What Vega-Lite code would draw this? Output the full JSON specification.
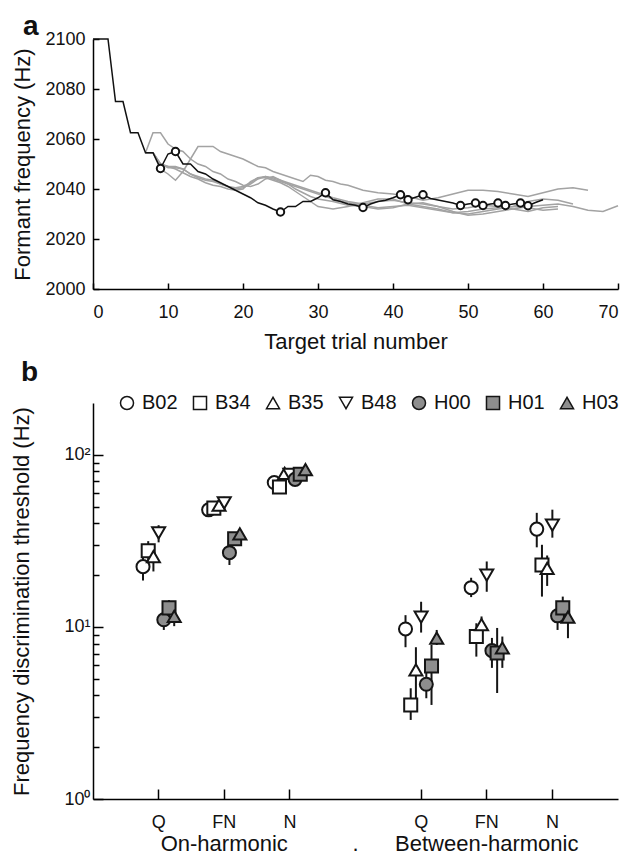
{
  "$schema": "https://vega.github.io/schema/vega-lite/v6.json",
  "padding": {"left": 10, "top": 13, "right": 8, "bottom": 4},
  "background": "white",
  "spacing": 7,
  "resolve": {"scale": {"shape": "independent", "fill": "independent"}, "legend": {"shape": "independent", "fill": "independent"}},
  "config": {
    "font": "Liberation Sans",
    "view": {"stroke": null},
    "axis": {"grid": false, "domainColor": "#000", "domainWidth": 1.5, "tickColor": "#000", "tickWidth": 1.5, "labelColor": "#111", "titleColor": "#111", "labelFontSize": 18, "titleFontSize": 22, "titleFontWeight": "normal", "labelFont": "Liberation Sans", "titleFont": "Liberation Sans"},
    "title": {"fontSize": 28, "fontWeight": "bold", "anchor": "start", "frame": "bounds", "color": "#111", "font": "Liberation Sans"},
    "legend": {"labelFont": "Liberation Sans", "labelColor": "#111"}
  },
  "datasets": {
    "black_track": [
      {"trial": 0, "freq": 2100}, {"trial": 1, "freq": 2100}, {"trial": 2, "freq": 2100}, {"trial": 3, "freq": 2075}, {"trial": 4, "freq": 2075},
      {"trial": 5, "freq": 2062.5}, {"trial": 6, "freq": 2062.5}, {"trial": 7, "freq": 2054.5}, {"trial": 8, "freq": 2054.5}, {"trial": 9, "freq": 2048.2},
      {"trial": 10, "freq": 2054}, {"trial": 11, "freq": 2055}, {"trial": 12, "freq": 2050}, {"trial": 13, "freq": 2050}, {"trial": 14, "freq": 2047},
      {"trial": 15, "freq": 2046}, {"trial": 16, "freq": 2044}, {"trial": 17, "freq": 2042.5}, {"trial": 18, "freq": 2041}, {"trial": 19, "freq": 2039.5},
      {"trial": 20, "freq": 2038}, {"trial": 21, "freq": 2036.5}, {"trial": 22, "freq": 2034.5}, {"trial": 23, "freq": 2033.5}, {"trial": 24, "freq": 2032},
      {"trial": 25, "freq": 2030.8}, {"trial": 26, "freq": 2033}, {"trial": 27, "freq": 2033}, {"trial": 28, "freq": 2035}, {"trial": 29, "freq": 2035},
      {"trial": 30, "freq": 2036.5}, {"trial": 31, "freq": 2038.5}, {"trial": 32, "freq": 2035.7}, {"trial": 33, "freq": 2035}, {"trial": 34, "freq": 2034},
      {"trial": 35, "freq": 2033.5}, {"trial": 36, "freq": 2032.6}, {"trial": 37, "freq": 2034}, {"trial": 38, "freq": 2035}, {"trial": 39, "freq": 2035.5},
      {"trial": 40, "freq": 2036.5}, {"trial": 41, "freq": 2037.7}, {"trial": 42, "freq": 2035.7}, {"trial": 43, "freq": 2036.7}, {"trial": 44, "freq": 2037.7},
      {"trial": 45, "freq": 2036.2}, {"trial": 46, "freq": 2035.6}, {"trial": 47, "freq": 2035}, {"trial": 48, "freq": 2034.4}, {"trial": 49, "freq": 2033.4},
      {"trial": 50, "freq": 2034}, {"trial": 51, "freq": 2034.4}, {"trial": 52, "freq": 2033.4}, {"trial": 53, "freq": 2034}, {"trial": 54, "freq": 2034.4},
      {"trial": 55, "freq": 2033.4}, {"trial": 56, "freq": 2034}, {"trial": 57, "freq": 2034.4}, {"trial": 58, "freq": 2033.3}, {"trial": 59, "freq": 2034.6},
      {"trial": 60, "freq": 2035.7}
    ],
    "reversals": [
      {"trial": 9, "freq": 2048.2}, {"trial": 11, "freq": 2055}, {"trial": 25, "freq": 2030.8}, {"trial": 31, "freq": 2038.5}, {"trial": 36, "freq": 2032.6},
      {"trial": 41, "freq": 2037.7}, {"trial": 42, "freq": 2035.7}, {"trial": 44, "freq": 2037.7}, {"trial": 49, "freq": 2033.4}, {"trial": 51, "freq": 2034.4},
      {"trial": 52, "freq": 2033.4}, {"trial": 54, "freq": 2034.4}, {"trial": 55, "freq": 2033.4}, {"trial": 57, "freq": 2034.4}, {"trial": 58, "freq": 2033.3}
    ],
    "grey_tracks": [
      {"track": "G1", "trial": 7, "freq": 2054.5}, {"track": "G1", "trial": 8, "freq": 2062.5}, {"track": "G1", "trial": 9, "freq": 2062.5}, {"track": "G1", "trial": 10, "freq": 2058}, {"track": "G1", "trial": 11, "freq": 2056}, {"track": "G1", "trial": 12, "freq": 2055}, {"track": "G1", "trial": 13, "freq": 2052}, {"track": "G1", "trial": 14, "freq": 2050}, {"track": "G1", "trial": 15, "freq": 2049}, {"track": "G1", "trial": 16, "freq": 2047}, {"track": "G1", "trial": 17, "freq": 2046}, {"track": "G1", "trial": 18, "freq": 2044}, {"track": "G1", "trial": 19, "freq": 2043}, {"track": "G1", "trial": 20, "freq": 2041.5}, {"track": "G1", "trial": 21, "freq": 2041}, {"track": "G1", "trial": 22, "freq": 2042}, {"track": "G1", "trial": 23, "freq": 2044}, {"track": "G1", "trial": 24, "freq": 2045}, {"track": "G1", "trial": 25, "freq": 2043.5}, {"track": "G1", "trial": 26, "freq": 2042.5}, {"track": "G1", "trial": 27, "freq": 2041.5}, {"track": "G1", "trial": 28, "freq": 2040.5}, {"track": "G1", "trial": 30, "freq": 2038.5}, {"track": "G1", "trial": 32, "freq": 2036.5}, {"track": "G1", "trial": 34, "freq": 2035}, {"track": "G1", "trial": 36, "freq": 2034}, {"track": "G1", "trial": 38, "freq": 2035}, {"track": "G1", "trial": 40, "freq": 2035.5}, {"track": "G1", "trial": 42, "freq": 2034.5}, {"track": "G1", "trial": 44, "freq": 2034}, {"track": "G1", "trial": 46, "freq": 2033}, {"track": "G1", "trial": 48, "freq": 2032}, {"track": "G1", "trial": 50, "freq": 2032.5}, {"track": "G1", "trial": 52, "freq": 2033.5}, {"track": "G1", "trial": 54, "freq": 2033}, {"track": "G1", "trial": 56, "freq": 2032}, {"track": "G1", "trial": 58, "freq": 2031}, {"track": "G1", "trial": 60, "freq": 2032.5}, {"track": "G1", "trial": 62, "freq": 2033},
      {"track": "G2", "trial": 7, "freq": 2054.5}, {"track": "G2", "trial": 8, "freq": 2054.5}, {"track": "G2", "trial": 9, "freq": 2048}, {"track": "G2", "trial": 10, "freq": 2046}, {"track": "G2", "trial": 11, "freq": 2043.5}, {"track": "G2", "trial": 12, "freq": 2047}, {"track": "G2", "trial": 13, "freq": 2052}, {"track": "G2", "trial": 14, "freq": 2057}, {"track": "G2", "trial": 15, "freq": 2057}, {"track": "G2", "trial": 16, "freq": 2057}, {"track": "G2", "trial": 17, "freq": 2055}, {"track": "G2", "trial": 18, "freq": 2054}, {"track": "G2", "trial": 19, "freq": 2053}, {"track": "G2", "trial": 20, "freq": 2052}, {"track": "G2", "trial": 21, "freq": 2050.5}, {"track": "G2", "trial": 22, "freq": 2049}, {"track": "G2", "trial": 23, "freq": 2048.5}, {"track": "G2", "trial": 24, "freq": 2047}, {"track": "G2", "trial": 25, "freq": 2046}, {"track": "G2", "trial": 26, "freq": 2045}, {"track": "G2", "trial": 27, "freq": 2044}, {"track": "G2", "trial": 28, "freq": 2043}, {"track": "G2", "trial": 29, "freq": 2045.5}, {"track": "G2", "trial": 30, "freq": 2045}, {"track": "G2", "trial": 31, "freq": 2043.5}, {"track": "G2", "trial": 32, "freq": 2043}, {"track": "G2", "trial": 33, "freq": 2042}, {"track": "G2", "trial": 34, "freq": 2041.5}, {"track": "G2", "trial": 35, "freq": 2040.5}, {"track": "G2", "trial": 36, "freq": 2039.5}, {"track": "G2", "trial": 37, "freq": 2039}, {"track": "G2", "trial": 38, "freq": 2038.5}, {"track": "G2", "trial": 40, "freq": 2038}, {"track": "G2", "trial": 42, "freq": 2037}, {"track": "G2", "trial": 44, "freq": 2035.5}, {"track": "G2", "trial": 46, "freq": 2036.5}, {"track": "G2", "trial": 48, "freq": 2038}, {"track": "G2", "trial": 50, "freq": 2039.5}, {"track": "G2", "trial": 52, "freq": 2039.5}, {"track": "G2", "trial": 54, "freq": 2039}, {"track": "G2", "trial": 56, "freq": 2038}, {"track": "G2", "trial": 58, "freq": 2037}, {"track": "G2", "trial": 60, "freq": 2038.5}, {"track": "G2", "trial": 62, "freq": 2040}, {"track": "G2", "trial": 64, "freq": 2040.5}, {"track": "G2", "trial": 66, "freq": 2039.5},
      {"track": "G3", "trial": 7, "freq": 2054.5}, {"track": "G3", "trial": 8, "freq": 2054.5}, {"track": "G3", "trial": 9, "freq": 2050}, {"track": "G3", "trial": 10, "freq": 2049}, {"track": "G3", "trial": 11, "freq": 2049}, {"track": "G3", "trial": 12, "freq": 2048}, {"track": "G3", "trial": 13, "freq": 2046}, {"track": "G3", "trial": 14, "freq": 2045}, {"track": "G3", "trial": 15, "freq": 2044}, {"track": "G3", "trial": 16, "freq": 2043.5}, {"track": "G3", "trial": 17, "freq": 2042}, {"track": "G3", "trial": 18, "freq": 2041}, {"track": "G3", "trial": 19, "freq": 2040}, {"track": "G3", "trial": 20, "freq": 2040.5}, {"track": "G3", "trial": 21, "freq": 2042}, {"track": "G3", "trial": 22, "freq": 2044}, {"track": "G3", "trial": 23, "freq": 2045}, {"track": "G3", "trial": 24, "freq": 2044.5}, {"track": "G3", "trial": 25, "freq": 2043.5}, {"track": "G3", "trial": 26, "freq": 2042}, {"track": "G3", "trial": 27, "freq": 2040}, {"track": "G3", "trial": 28, "freq": 2038.5}, {"track": "G3", "trial": 29, "freq": 2037}, {"track": "G3", "trial": 30, "freq": 2036}, {"track": "G3", "trial": 32, "freq": 2035}, {"track": "G3", "trial": 34, "freq": 2033.5}, {"track": "G3", "trial": 36, "freq": 2033}, {"track": "G3", "trial": 38, "freq": 2032}, {"track": "G3", "trial": 40, "freq": 2032.5}, {"track": "G3", "trial": 42, "freq": 2034}, {"track": "G3", "trial": 44, "freq": 2034.5}, {"track": "G3", "trial": 46, "freq": 2033}, {"track": "G3", "trial": 48, "freq": 2031}, {"track": "G3", "trial": 50, "freq": 2029.5}, {"track": "G3", "trial": 52, "freq": 2030}, {"track": "G3", "trial": 54, "freq": 2031}, {"track": "G3", "trial": 56, "freq": 2032}, {"track": "G3", "trial": 58, "freq": 2033}, {"track": "G3", "trial": 60, "freq": 2033.5}, {"track": "G3", "trial": 62, "freq": 2034}, {"track": "G3", "trial": 64, "freq": 2033}, {"track": "G3", "trial": 66, "freq": 2031.5}, {"track": "G3", "trial": 68, "freq": 2031}, {"track": "G3", "trial": 70, "freq": 2033.3},
      {"track": "G4", "trial": 7, "freq": 2054.5}, {"track": "G4", "trial": 8, "freq": 2054.5}, {"track": "G4", "trial": 9, "freq": 2050}, {"track": "G4", "trial": 10, "freq": 2049}, {"track": "G4", "trial": 11, "freq": 2048}, {"track": "G4", "trial": 12, "freq": 2046.5}, {"track": "G4", "trial": 13, "freq": 2045}, {"track": "G4", "trial": 14, "freq": 2044}, {"track": "G4", "trial": 15, "freq": 2042.5}, {"track": "G4", "trial": 16, "freq": 2041.5}, {"track": "G4", "trial": 17, "freq": 2041}, {"track": "G4", "trial": 18, "freq": 2040}, {"track": "G4", "trial": 19, "freq": 2039.5}, {"track": "G4", "trial": 20, "freq": 2040}, {"track": "G4", "trial": 21, "freq": 2043}, {"track": "G4", "trial": 22, "freq": 2044.5}, {"track": "G4", "trial": 23, "freq": 2044.5}, {"track": "G4", "trial": 24, "freq": 2043.5}, {"track": "G4", "trial": 25, "freq": 2042.5}, {"track": "G4", "trial": 26, "freq": 2041}, {"track": "G4", "trial": 27, "freq": 2039}, {"track": "G4", "trial": 28, "freq": 2037}, {"track": "G4", "trial": 29, "freq": 2035}, {"track": "G4", "trial": 30, "freq": 2033}, {"track": "G4", "trial": 31, "freq": 2032.5}, {"track": "G4", "trial": 32, "freq": 2032}, {"track": "G4", "trial": 34, "freq": 2033}, {"track": "G4", "trial": 36, "freq": 2034.5}, {"track": "G4", "trial": 38, "freq": 2036}, {"track": "G4", "trial": 40, "freq": 2036}, {"track": "G4", "trial": 42, "freq": 2034}, {"track": "G4", "trial": 44, "freq": 2033}, {"track": "G4", "trial": 46, "freq": 2032}, {"track": "G4", "trial": 48, "freq": 2030.5}, {"track": "G4", "trial": 50, "freq": 2031}, {"track": "G4", "trial": 52, "freq": 2032}, {"track": "G4", "trial": 54, "freq": 2032.5}, {"track": "G4", "trial": 56, "freq": 2033}, {"track": "G4", "trial": 58, "freq": 2035}, {"track": "G4", "trial": 60, "freq": 2036}, {"track": "G4", "trial": 62, "freq": 2035.5}, {"track": "G4", "trial": 64, "freq": 2034},
      {"track": "G5", "trial": 7, "freq": 2054.5}, {"track": "G5", "trial": 8, "freq": 2054.5}, {"track": "G5", "trial": 9, "freq": 2050}, {"track": "G5", "trial": 10, "freq": 2048.5}, {"track": "G5", "trial": 11, "freq": 2048.5}, {"track": "G5", "trial": 12, "freq": 2048}, {"track": "G5", "trial": 13, "freq": 2046}, {"track": "G5", "trial": 14, "freq": 2044.5}, {"track": "G5", "trial": 15, "freq": 2043.5}, {"track": "G5", "trial": 16, "freq": 2043}, {"track": "G5", "trial": 17, "freq": 2042}, {"track": "G5", "trial": 18, "freq": 2041}, {"track": "G5", "trial": 19, "freq": 2040.5}, {"track": "G5", "trial": 20, "freq": 2041}, {"track": "G5", "trial": 21, "freq": 2042.5}, {"track": "G5", "trial": 22, "freq": 2044.5}, {"track": "G5", "trial": 23, "freq": 2045}, {"track": "G5", "trial": 24, "freq": 2044}, {"track": "G5", "trial": 25, "freq": 2043}, {"track": "G5", "trial": 26, "freq": 2042}, {"track": "G5", "trial": 27, "freq": 2041}, {"track": "G5", "trial": 28, "freq": 2040}, {"track": "G5", "trial": 30, "freq": 2038}, {"track": "G5", "trial": 32, "freq": 2036}, {"track": "G5", "trial": 34, "freq": 2034.5}, {"track": "G5", "trial": 36, "freq": 2033.5}, {"track": "G5", "trial": 38, "freq": 2032.5}, {"track": "G5", "trial": 40, "freq": 2033}, {"track": "G5", "trial": 42, "freq": 2033.5}, {"track": "G5", "trial": 44, "freq": 2032.5}, {"track": "G5", "trial": 46, "freq": 2031.5}, {"track": "G5", "trial": 48, "freq": 2030.5}, {"track": "G5", "trial": 50, "freq": 2030}, {"track": "G5", "trial": 52, "freq": 2031}, {"track": "G5", "trial": 54, "freq": 2032}, {"track": "G5", "trial": 56, "freq": 2033}, {"track": "G5", "trial": 58, "freq": 2032.5}, {"track": "G5", "trial": 60, "freq": 2031.5}, {"track": "G5", "trial": 62, "freq": 2032}
    ],
    "thresholds": [
      {"slot": 1, "listener": "B02", "thr": 22.4, "lo": 18.6, "hi": 27},
      {"slot": 1, "listener": "B34", "thr": 27.7, "lo": 24, "hi": 31.5},
      {"slot": 1, "listener": "B35", "thr": 25.6, "lo": 21, "hi": 29},
      {"slot": 1, "listener": "B48", "thr": 35.2, "lo": 31, "hi": 39},
      {"slot": 1, "listener": "H00", "thr": 11, "lo": 9.6, "hi": 12.5},
      {"slot": 1, "listener": "H01", "thr": 12.9, "lo": 11.5, "hi": 14.3},
      {"slot": 1, "listener": "H03", "thr": 11.5, "lo": 10.1, "hi": 12.8},
      {"slot": 2, "listener": "B02", "thr": 47.9, "lo": 44, "hi": 52},
      {"slot": 2, "listener": "B34", "thr": 49, "lo": 45, "hi": 53},
      {"slot": 2, "listener": "B35", "thr": 51, "lo": 47, "hi": 55},
      {"slot": 2, "listener": "B48", "thr": 52.6, "lo": 48, "hi": 57},
      {"slot": 2, "listener": "H00", "thr": 27, "lo": 22.9, "hi": 31},
      {"slot": 2, "listener": "H01", "thr": 32.5, "lo": 30, "hi": 35},
      {"slot": 2, "listener": "H03", "thr": 34.7, "lo": 32, "hi": 37},
      {"slot": 3, "listener": "B02", "thr": 69, "lo": 64, "hi": 74},
      {"slot": 3, "listener": "B34", "thr": 65, "lo": 60, "hi": 70},
      {"slot": 3, "listener": "B35", "thr": 78, "lo": 72, "hi": 84},
      {"slot": 3, "listener": "B48", "thr": 77, "lo": 71, "hi": 83},
      {"slot": 3, "listener": "H00", "thr": 72, "lo": 66, "hi": 78},
      {"slot": 3, "listener": "H01", "thr": 77, "lo": 71, "hi": 83},
      {"slot": 3, "listener": "H03", "thr": 82, "lo": 76, "hi": 88},
      {"slot": 5, "listener": "B02", "thr": 9.73, "lo": 7.62, "hi": 11.7},
      {"slot": 5, "listener": "B34", "thr": 3.52, "lo": 2.88, "hi": 4.4},
      {"slot": 5, "listener": "B35", "thr": 5.62, "lo": 3.22, "hi": 7.62},
      {"slot": 5, "listener": "B48", "thr": 11.4, "lo": 9.27, "hi": 14},
      {"slot": 5, "listener": "H00", "thr": 4.64, "lo": 3.85, "hi": 5.6},
      {"slot": 5, "listener": "H01", "thr": 5.93, "lo": 3.52, "hi": 7.85},
      {"slot": 5, "listener": "H03", "thr": 8.6, "lo": 7.85, "hi": 9.6},
      {"slot": 6, "listener": "B02", "thr": 16.9, "lo": 14.9, "hi": 19.3},
      {"slot": 6, "listener": "B34", "thr": 8.79, "lo": 6.72, "hi": 10.5},
      {"slot": 6, "listener": "B35", "thr": 10.3, "lo": 9, "hi": 11.5},
      {"slot": 6, "listener": "B48", "thr": 20, "lo": 16, "hi": 24},
      {"slot": 6, "listener": "H00", "thr": 7.28, "lo": 5.78, "hi": 8.63},
      {"slot": 6, "listener": "H01", "thr": 7.06, "lo": 4.13, "hi": 9.86},
      {"slot": 6, "listener": "H03", "thr": 7.55, "lo": 5.78, "hi": 8.79},
      {"slot": 7, "listener": "B02", "thr": 37, "lo": 29, "hi": 46},
      {"slot": 7, "listener": "B34", "thr": 22.9, "lo": 15, "hi": 30},
      {"slot": 7, "listener": "B35", "thr": 21.9, "lo": 17.3, "hi": 26},
      {"slot": 7, "listener": "B48", "thr": 39, "lo": 33, "hi": 48},
      {"slot": 7, "listener": "H00", "thr": 11.6, "lo": 9.6, "hi": 13.5},
      {"slot": 7, "listener": "H01", "thr": 12.9, "lo": 11, "hi": 15},
      {"slot": 7, "listener": "H03", "thr": 11.4, "lo": 8.6, "hi": 13}
    ],
    "groups": [
      {"slot": 2, "label": "On-harmonic"},
      {"slot": 4, "label": "."},
      {"slot": 6, "label": "Between-harmonic"}
    ]
  },
  "vconcat": [
    {
      "title": {"text": "a", "offset": -11, "dx": 11},
      "width": 525,
      "height": 250,
      "layer": [
        {
          "data": {"name": "grey_tracks"},
          "mark": {"type": "line", "color": "#a3a3a3", "strokeWidth": 1.5},
          "encoding": {
            "x": {"field": "trial", "type": "quantitative", "scale": {"domain": [0, 70], "nice": false}, "axis": {"title": "Target trial number", "values": [0, 10, 20, 30, 40, 50, 60, 70], "tickSize": -6, "labelPadding": 20, "titlePadding": 10}},
            "y": {"field": "freq", "type": "quantitative", "scale": {"domain": [2000, 2100], "nice": false, "zero": false}, "axis": {"title": "Formant frequency (Hz)", "format": "d", "values": [2000, 2020, 2040, 2060, 2080, 2100], "tickSize": -6, "labelPadding": 14, "titlePadding": 10}},
            "detail": {"field": "track", "type": "nominal"}
          }
        },
        {
          "data": {"name": "black_track"},
          "mark": {"type": "line", "color": "#111", "strokeWidth": 1.5},
          "encoding": {
            "x": {"field": "trial", "type": "quantitative"},
            "y": {"field": "freq", "type": "quantitative"}
          }
        },
        {
          "data": {"name": "reversals"},
          "mark": {"type": "point", "shape": "circle", "filled": true, "fill": "white", "stroke": "#111", "strokeWidth": 2, "size": 55, "opacity": 1},
          "encoding": {
            "x": {"field": "trial", "type": "quantitative"},
            "y": {"field": "freq", "type": "quantitative"}
          }
        }
      ]
    },
    {
      "title": {"text": "b", "offset": 6, "dx": 10},
      "width": 525,
      "height": 396,
      "layer": [
        {
          "data": {"name": "thresholds"},
          "mark": {"type": "rule", "color": "#151515", "strokeWidth": 2},
          "encoding": {
            "x": {"field": "slot", "type": "ordinal", "scale": {"type": "band", "domain": [1, 2, 3, 4, 5, 6, 7], "paddingInner": 0, "paddingOuter": 0.5}, "axis": {"title": null, "values": [1, 2, 3, 5, 6, 7], "labelExpr": "datum.value == 1 || datum.value == 5 ? 'Q' : (datum.value == 2 || datum.value == 6 ? 'FN' : 'N')", "labelAngle": 0, "tickSize": -10, "labelPadding": 24}},
            "xOffset": {"field": "listener", "type": "nominal", "scale": {"type": "point", "domain": ["B02", "B34", "B35", "B48", "H00", "H01", "H03"], "range": [17.2, 48.4], "padding": 0}},
            "y": {"field": "lo", "type": "quantitative", "scale": {"type": "log", "domain": [1, 200], "nice": false}, "axis": {"title": "Frequency discrimination threshold (Hz)", "values": [1, 2, 3, 4, 5, 6, 7, 8, 9, 10, 20, 30, 40, 50, 60, 70, 80, 90, 100], "labelExpr": "datum.value == 1 ? '10⁰' : (datum.value == 10 ? '10¹' : (datum.value == 100 ? '10²' : ''))", "tickSize": {"condition": {"test": "datum.value == 1 || datum.value == 10 || datum.value == 100", "value": -10}, "value": -6}, "labelPadding": 13, "titlePadding": 30}},
            "y2": {"field": "hi"}
          }
        },
        {
          "data": {"name": "thresholds"},
          "mark": {"type": "point", "filled": true, "stroke": "#151515", "strokeWidth": 2, "size": 170, "opacity": 1},
          "encoding": {
            "x": {"field": "slot", "type": "ordinal"},
            "xOffset": {"field": "listener", "type": "nominal"},
            "y": {"field": "thr", "type": "quantitative"},
            "shape": {"field": "listener", "type": "nominal", "scale": {"domain": ["B02", "B34", "B35", "B48", "H00", "H01", "H03"], "range": ["circle", "square", "triangle-up", "triangle-down", "circle", "square", "triangle-up"]}, "legend": {"title": null, "orient": "none", "legendX": 24, "legendY": -10, "direction": "horizontal", "labelFontSize": 20, "symbolSize": 170, "labelOffset": 5, "columnPadding": 12, "encode": {"symbols": {"update": {"stroke": {"value": "#151515"}, "strokeWidth": {"value": 2}}}}}},
            "fill": {"field": "listener", "type": "nominal", "scale": {"domain": ["B02", "B34", "B35", "B48", "H00", "H01", "H03"], "range": ["white", "white", "white", "white", "#8e8e8e", "#8e8e8e", "#8e8e8e"]}, "legend": {"title": null, "orient": "none", "legendX": 24, "legendY": -10, "direction": "horizontal", "labelFontSize": 20, "symbolSize": 170, "labelOffset": 5, "columnPadding": 12, "encode": {"symbols": {"update": {"stroke": {"value": "#151515"}, "strokeWidth": {"value": 2}}}}}}
          }
        },
        {
          "data": {"name": "groups"},
          "mark": {"type": "text", "fontSize": 22, "baseline": "middle", "align": "center", "color": "#111", "font": "Liberation Sans"},
          "encoding": {
            "x": {"field": "slot", "type": "ordinal"},
            "y": {"datum": 0.547},
            "text": {"field": "label"}
          }
        }
      ]
    }
  ]
}
